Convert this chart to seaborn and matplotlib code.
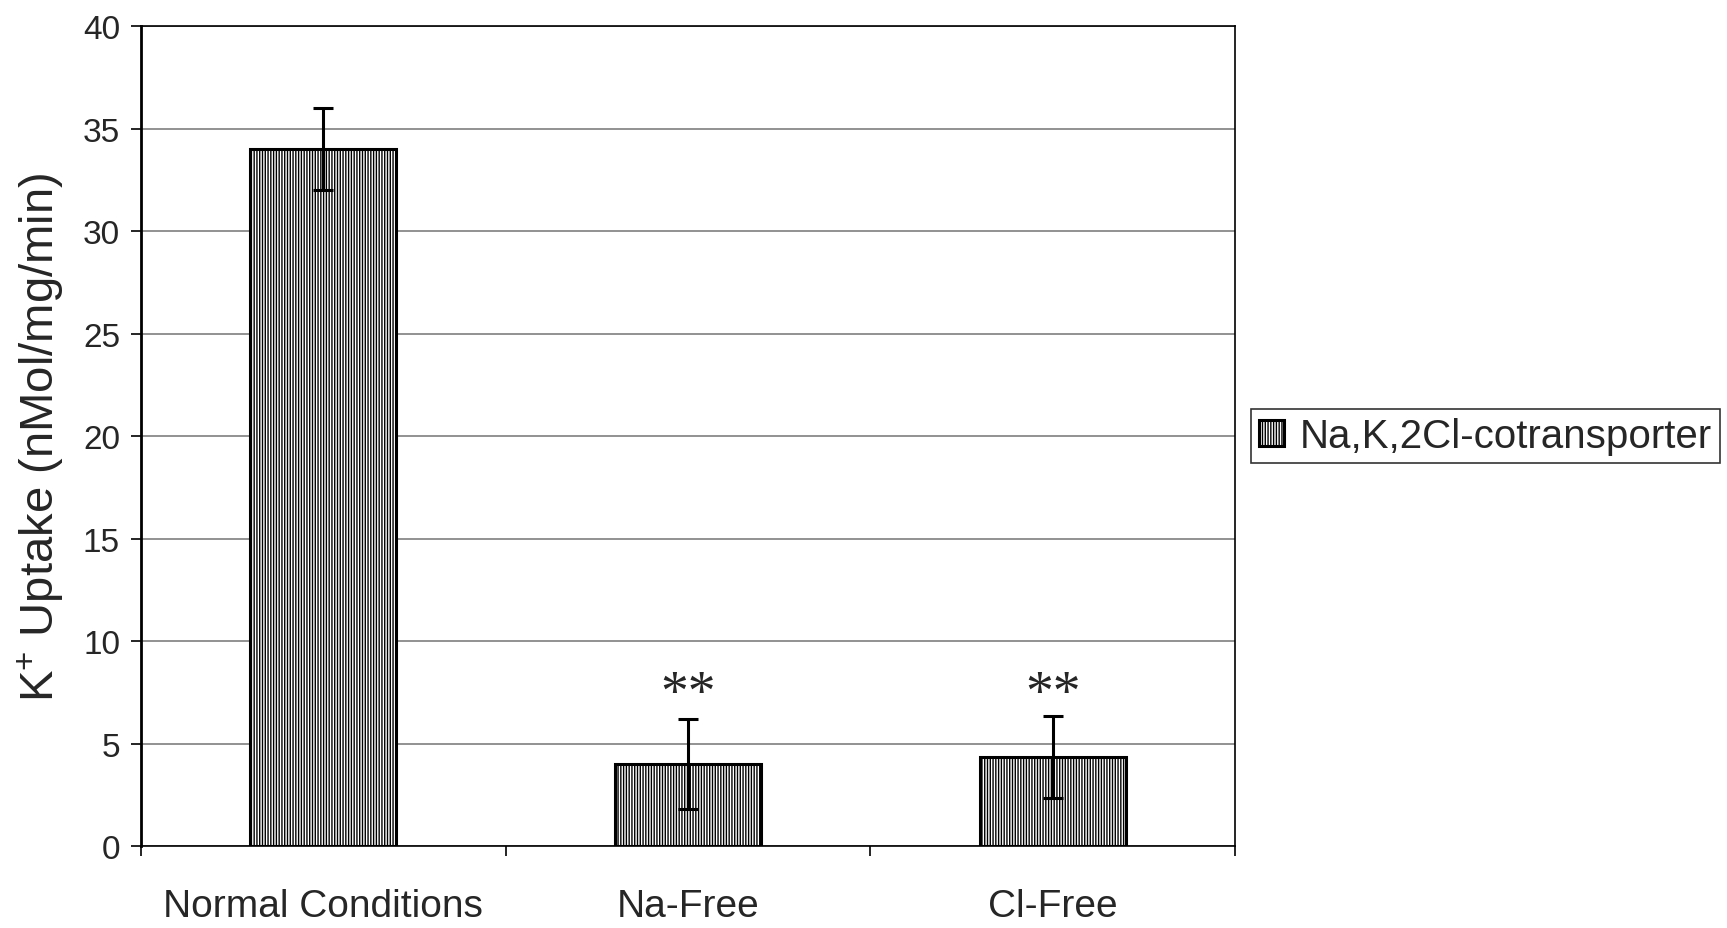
import pandas as pd
import matplotlib
matplotlib.use("Agg")
import matplotlib.pyplot as plt
import seaborn as sns

sns.set_style("white")
plt.rcParams['font.family'] = ['Liberation Sans', 'DejaVu Sans']
plt.rcParams['mathtext.default'] = 'regular'
plt.rcParams['hatch.linewidth'] = 1.0

# data
conditions = ["Normal Conditions", "Na-Free", "Cl-Free"]
uptake = [34.0, 4.0, 4.35]
uptake_err = [2.0, 2.2, 2.0]
marks = ["", "**", "**"]
series_name = "Na,K,2Cl-cotransporter"

df = pd.DataFrame({"condition": conditions, "uptake": uptake})

fig = plt.figure(figsize=(17.27, 9.29), dpi=100)
ax = fig.add_axes([0.0816, 0.0883, 0.6335, 0.8821])

sns.barplot(data=df, x="condition", y="uptake", ax=ax, width=0.4,
            color="white", edgecolor="black", linewidth=2.2,
            hatch="||||||", label=series_name, zorder=3)
ax.errorbar(x=range(len(conditions)), y=uptake, yerr=uptake_err, fmt="none",
            ecolor="black", elinewidth=2.2, capsize=7, capthick=2.2, zorder=4)

# significance marks
for i, m in enumerate(marks):
    if m:
        ax.text(i, 7.35, m, ha="center", va="center", fontsize=40,
                family=["Liberation Serif", "DejaVu Serif"])

ax.set_ylim(0, 40)
ax.set_xlim(-0.5, 2.5)
ax.set_yticks(range(0, 41, 5))
ax.yaxis.grid(True, color="#7f7f7f", linewidth=1.2, zorder=0)
ax.set_axisbelow(True)

ax.set_xticks([-0.5, 0.5, 1.5, 2.5], minor=True)
ax.tick_params(axis="x", which="major", length=0, pad=30, labelsize=28)
ax.tick_params(axis="x", which="minor", length=7, width=1.2, color="black", bottom=True)
ax.tick_params(axis="y", length=7, width=1.2, color="black", left=True, pad=8, labelsize=24)

for s in ax.spines.values():
    s.set_color("black")
    s.set_linewidth(1.2)
ax.spines["left"].set_linewidth(2)

ax.set_xlabel("")
ax.set_ylabel("K$^{+}$ Uptake (nMol/mg/min)", fontsize=34, labelpad=12)

leg = ax.legend(loc="center left", bbox_to_anchor=(1.015, 0.5), fontsize=29,
                frameon=True, fancybox=False, edgecolor="black",
                handlelength=0.6, handleheight=0.6, handletextpad=0.4,
                borderpad=0.2, borderaxespad=0)
leg.get_frame().set_linewidth(1.2)

fig.savefig("out.png", dpi=100)
